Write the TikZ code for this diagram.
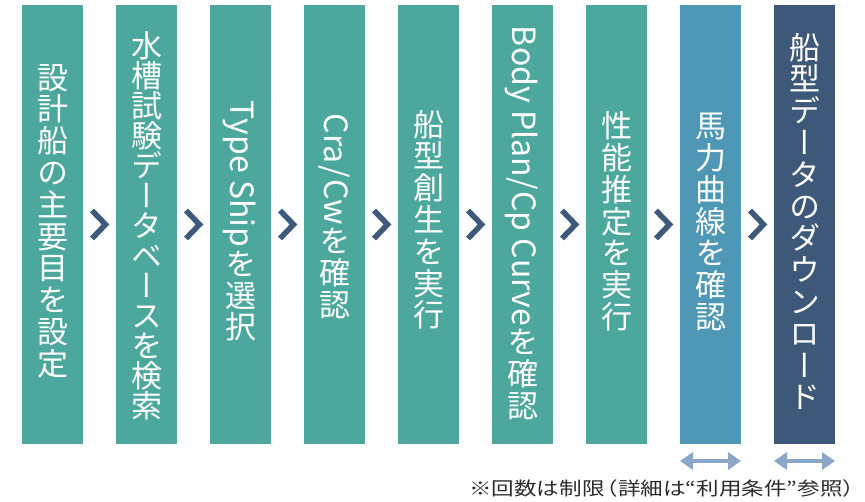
\documentclass[tikz,border=0pt]{standalone}
\usepackage{fontspec}
\usetikzlibrary{arrows.meta,calc}
\newfontfamily\vjp[RawFeature={+vert}]{Noto Sans CJK JP}
\newfontfamily\jp{Noto Sans CJK JP}
\definecolor{cteal}{HTML}{4CA89C}
\definecolor{clight}{HTML}{4F98B5}
\definecolor{cnavy}{HTML}{3D5878}
\definecolor{cchev}{HTML}{3E597C}
\definecolor{carrow}{HTML}{8BA7C8}
\definecolor{cnote}{HTML}{2B2B2B}
\begin{document}
\begin{tikzpicture}[x=1pt,y=-1pt,
  stepbox/.style={draw=none,minimum width=61pt,minimum height=439pt,inner sep=0pt,outer sep=0pt},
  cjk/.style={anchor=base,text=white,inner sep=0pt,outer sep=0pt,font=\vjp\fontsize{31}{31}\selectfont},
  lat/.style={rotate=-90,anchor=base west,text=white,inner sep=0pt,outer sep=0pt,font=\jp\fontsize{32}{32}\selectfont},
  chev/.style={draw=cchev,line width=5.5pt,line join=miter,line cap=butt},
  dbl/.style={draw=carrow,line width=4pt,{Triangle[width=17pt,length=13pt]}-{Triangle[width=17pt,length=13pt]}},
]
\useasboundingbox (0,0) rectangle (865,502);
\foreach \i/\c in {1/cteal,2/cteal,3/cteal,4/cteal,5/cteal,6/cteal,7/cteal,8/clight,9/cnavy}{
  \node[stepbox,fill=\c] (b\i) at ({52.5+94*(\i-1)},224.5) {};
}
% pure CJK columns: box / first cell top / pitch / characters
\foreach \i/\top/\p/\txt in {
  1/61.5/31.8/{設,計,船,の,主,要,目,を,設,定},
  2/31/30/{水,槽,試,験,デ,ー,タ,ベ,ー,ス,を,検,索},
  5/108.5/31.8/{船,型,創,生,を,実,行},
  7/110/31.8/{性,能,推,定,を,実,行},
  8/110/31.8/{馬,力,曲,線,を,確,認},
  9/31.5/31.8/{船,型,デ,ー,タ,の,ダ,ウ,ン,ロ,ー,ド}}{
  \foreach \ch [count=\k from 0] in \txt {
    \node[cjk] (t\i-\k) at ($(b\i.north)+(0,{\top-5+(\k+0.5)*\p+11.8})$) {\ch};
  }
}
% columns beginning with Latin text
\foreach \i/\top/\lt/\txt in {
  3/101/{Type Ship}/{を,選,択},
  4/114/{Cra\kern1.5pt/\kern1.5pt Cw}/{を,確,認},
  6/26/{Body Plan\kern1pt/\kern1pt Cp Curve}/{を,確,認}}{
  \node[lat] (l\i) at ($(b\i.north)+(-10.5,{\top-5})$) {\lt};
  \foreach \ch [count=\k from 0] in \txt {
    \node[cjk] (t\i-\k) at ($(l\i.base east -| b\i.center)+(0,{(\k+0.5)*31.8+11.8})$) {\ch};
  }
}
\foreach \i [evaluate=\i as \j using int(\i+1)] in {1,...,8}{
  \coordinate (m\i) at ($(b\i.east)!0.5!(b\j.west)$);
  \draw[chev] ($(m\i)+(-7.5,-14)$) -- ($(m\i)+(6,0)$) -- ($(m\i)+(-7.5,14)$);
}
\coordinate (a8l) at ($(b8.south west)+(0,17)$);
\coordinate (a8r) at ($(b8.south east)+(0,17)$);
\coordinate (a9l) at ($(b9.south west)+(0,17)$);
\coordinate (a9r) at ($(b9.south east)+(0,17)$);
\draw[dbl] (a8l) -- (a8r);
\draw[dbl] (a9l) -- (a9r);
\node[anchor=base west,inner sep=0pt,xscale=1.22,text=cnote,font=\jp\fontsize{18.5}{18.5}\selectfont] (note) at (469,495) {※回数は制限\kern-0.4em（詳細は“利用条件”参照）};
\end{tikzpicture}
\end{document}
